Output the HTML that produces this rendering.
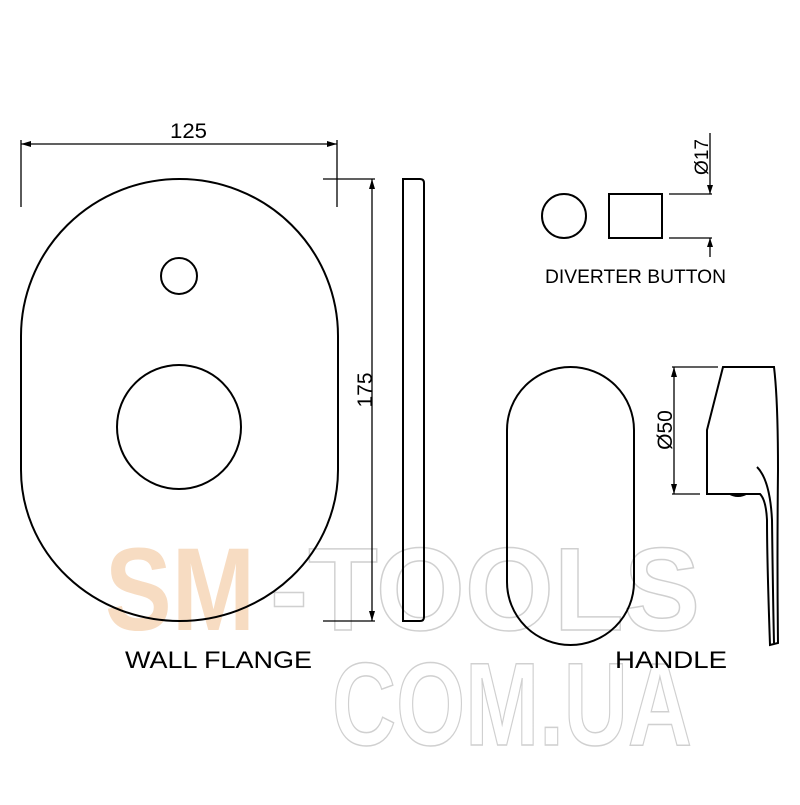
<!DOCTYPE html>
<html><head><meta charset="utf-8"><style>html,body{margin:0;padding:0;background:#fff}</style></head>
<body>
<svg width="800" height="800" viewBox="0 0 800 800" xmlns="http://www.w3.org/2000/svg" font-family="Liberation Sans, sans-serif">
<rect width="800" height="800" fill="#fff"/>
<g font-weight="bold" font-size="118">
<text x="105" y="630" textLength="150" lengthAdjust="spacingAndGlyphs" fill="#f7dcc2">SM</text>
<text x="270" y="630" textLength="430" lengthAdjust="spacingAndGlyphs" fill="none" stroke="#d0d0d0" stroke-width="1.5">-TOOLS</text>
<text x="332" y="745" textLength="360" lengthAdjust="spacingAndGlyphs" fill="none" stroke="#d0d0d0" stroke-width="1.5">COM.UA</text>
</g>
<g fill="none" stroke="#000" stroke-width="2">
<path d="M21,336 A158.5,157 0 0 1 338,336 L338,470 A158.5,151 0 0 1 21,470 Z"/>
<circle cx="179" cy="276" r="18"/>
<circle cx="179" cy="427" r="62"/>
<path d="M403,179 L420,179 Q424,179 424,183 L424,617 Q424,621 420,621 L403,621 Z"/>
<circle cx="564" cy="216" r="22"/>
<rect x="609" y="194" width="53" height="44"/>
<path d="M507,430 A63.5,63 0 0 1 634,430 L634,582 A63.5,63 0 0 1 507,582 Z"/>
<path d="M723,367 L774,367 Q778,400 778,470 Q777,560 778,643 L770,645 Q767,560 767,520 Q766,500 760,494 L707,494 L707,430 Z"/>
<path d="M757,467 Q770,480 772,520 Q773,600 774,643"/>
</g>
<path d="M728,494 Q738,500 748,494 Z" fill="#000"/>
<g stroke="#000" stroke-width="1.3" fill="none">
<line x1="21" y1="140" x2="21" y2="207"/><line x1="337" y1="140" x2="337" y2="207"/>
<line x1="21" y1="144" x2="337" y2="144"/>
<line x1="323" y1="179" x2="375" y2="179"/><line x1="323" y1="621" x2="375" y2="621"/>
<line x1="372" y1="179" x2="372" y2="621"/>
<line x1="669" y1="194" x2="712" y2="194"/><line x1="669" y1="238" x2="712" y2="238"/>
<line x1="710" y1="133" x2="710" y2="194"/><line x1="710" y1="238" x2="710" y2="257"/>
<line x1="672" y1="367" x2="718" y2="367"/><line x1="672" y1="494" x2="700" y2="494"/>
<line x1="674" y1="367" x2="674" y2="494"/>
</g>
<g fill="#000">
<path d="M21,144 l10,-3 l0,6z"/><path d="M337,144 l-10,-3 l0,6z"/>
<path d="M372,179 l-3,10 l6,0z"/><path d="M372,621 l-3,-10 l6,0z"/>
<path d="M710,194 l-3,-9 l6,0z"/><path d="M710,238 l-3,9 l6,0z"/>
<path d="M674,367 l-3,10 l6,0z"/><path d="M674,494 l-3,-10 l6,0z"/>
</g>
<g fill="#000">
<text x="170" y="138" font-size="21" textLength="37" lengthAdjust="spacingAndGlyphs">125</text>
<text transform="translate(372,390) rotate(-90)" font-size="21" text-anchor="middle">175</text>
<text transform="translate(708,157) rotate(-90)" font-size="19" text-anchor="middle">Ø17</text>
<text transform="translate(672,430) rotate(-90)" font-size="21" text-anchor="middle">Ø50</text>
<text x="545" y="283" font-size="19" textLength="181" lengthAdjust="spacingAndGlyphs">DIVERTER BUTTON</text>
<text x="125" y="668" font-size="24" textLength="187" lengthAdjust="spacingAndGlyphs">WALL FLANGE</text>
<text x="615" y="668" font-size="24" textLength="112" lengthAdjust="spacingAndGlyphs">HANDLE</text>
</g>
</svg>
</body></html>
